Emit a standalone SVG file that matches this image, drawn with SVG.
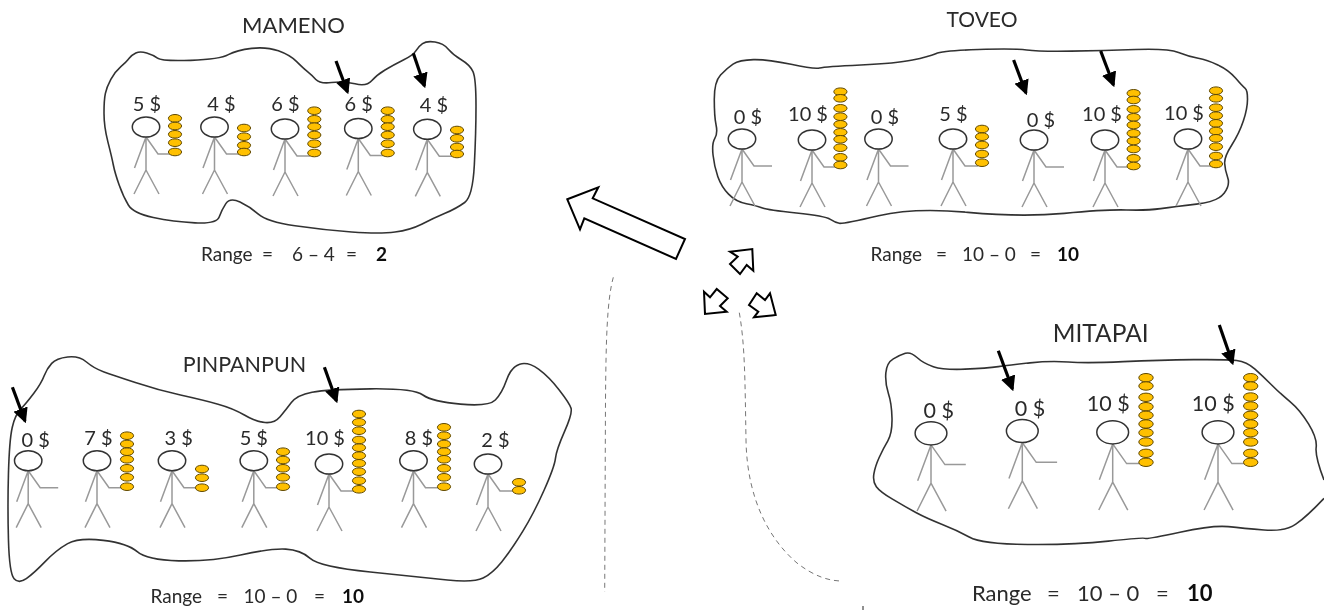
<svg xmlns="http://www.w3.org/2000/svg" width="1324" height="610" viewBox="0 0 1324 610">
<style>
text{font-family:"Lato","Open Sans","Liberation Sans",sans-serif;fill:#2a2a2a}
.t{font-size:21px;text-anchor:middle}
.l{font-size:20px;text-anchor:middle}
.lb{font-size:21.5px;text-anchor:middle}
.r{font-size:19px}
.bold{font-weight:700;fill:#111}
.blob{fill:none;stroke:#333;stroke-width:1.6;stroke-linejoin:round;vector-effect:non-scaling-stroke}
.limb{fill:none;stroke:#999;stroke-width:1.5;vector-effect:non-scaling-stroke}
.head{fill:#fff;stroke:#333;stroke-width:1.5;vector-effect:non-scaling-stroke}
.coins ellipse{fill:#ffc000;stroke:#5f4800;stroke-width:1;rx:6.6px;ry:3.8px}
.big ellipse{rx:7.2px;ry:4.2px}
.pt{stroke:#000;stroke-width:3.2;fill:none}
.block{fill:#fff;stroke:#000;stroke-width:2;stroke-linejoin:miter}
.dash{fill:none;stroke:#666;stroke-width:.9;stroke-dasharray:5 4}
</style>
<defs>
<filter id="soft" x="0" y="0" width="100%" height="100%"><feGaussianBlur stdDeviation=".35"/></filter>
<marker id="ah" markerUnits="userSpaceOnUse" markerWidth="15" markerHeight="15" refX="11" refY="6.500" orient="auto" viewBox="0 0 13 13"><path d="M0 0L13 6.500L0 13Z" fill="#000"/></marker>
<g id="fig"><path class="limb" d="M0 10V43M0 43L-12 67M0 43L13 67M0 10L-11.500 41M0 10L12 27H25"/><ellipse class="head" rx="13.700" ry="10"/></g>
<g id="fig0"><path class="limb" d="M0 10V43M0 43L-12 67M0 43L13 67M0 10L-11.500 41M0 10L12 27H30"/><ellipse class="head" rx="13.700" ry="10"/></g>
</defs>
<rect width="1324" height="610" fill="#fff"/>
<g filter="url(#soft)">
<g id="mameno">
<path class="blob" transform="translate(90 0) scale(.33333)" d="M42 340Q42 300 46 281Q50 262 62.500 238.500Q75 215 92.500 200Q110 185 117.500 175Q125 165 137.500 159Q150 153 170 159Q190 165 202.500 174.500Q215 184 302.500 181Q390 178 415 164Q440 150 485 145Q530 140 565 152.500Q600 165 620 185Q640 205 652.500 215Q665 225 677.500 238.500Q690 252 725 247.500Q760 243 795 251.500Q830 260 845 242.500Q860 225 885 210Q910 195 940 180Q970 165 977.500 152.500Q985 140 997.500 131Q1010 122 1035 126Q1060 130 1075 147.500Q1090 165 1115 180Q1140 195 1149 215Q1158 235 1158 317.500Q1158 400 1153 495Q1148 590 1124 607.500Q1100 625 1065 640Q1030 655 995 672.500Q960 690 915 696Q870 702 785 696Q700 690 615 677.500Q530 665 505 642.500Q480 620 450 606Q420 592 407.500 611Q395 630 387.500 651Q380 672 315 668.500Q250 665 190 652.500Q130 640 115 615Q100 590 87.500 555Q75 520 70 495Q65 470 53.500 425Q42 380 42 340Z"/>
<text class="t" style="font-size:22px" x="293.500" y="33">MAMENO</text>
<text class="r" y="261"><tspan x="201">Range</tspan><tspan x="262">=</tspan><tspan x="292">6 – 4</tspan><tspan x="346">=</tspan><tspan class="bold" x="376">2</tspan></text>
<g id="m1"><use href="#fig" x="146" y="127"/><text class="l" x="147" y="111">5 $</text><g class="coins"><ellipse cx="175" cy="118.300"/><ellipse cx="175" cy="126"/><ellipse cx="175" cy="134.300"/><ellipse cx="175" cy="142.700"/><ellipse cx="175" cy="152"/></g></g>
<g id="m2"><use href="#fig" x="214.500" y="127"/><text class="l" x="221.500" y="111">4 $</text><g class="coins"><ellipse cx="244" cy="128"/><ellipse cx="244" cy="136.700"/><ellipse cx="244" cy="145.300"/><ellipse cx="244" cy="152"/></g></g>
<g id="m3"><use href="#fig" x="285" y="129"/><text class="l" x="285.500" y="111">6 $</text><g class="coins"><ellipse cx="314.300" cy="110.700"/><ellipse cx="314.300" cy="119.300"/><ellipse cx="314.300" cy="126.700"/><ellipse cx="314.300" cy="135"/><ellipse cx="314.300" cy="143.700"/><ellipse cx="314.300" cy="153"/></g></g>
<g id="m4"><use href="#fig" x="358.300" y="128.500"/><text class="l" x="358.700" y="111">6 $</text><g class="coins"><ellipse cx="387.700" cy="110.700"/><ellipse cx="387.700" cy="119.300"/><ellipse cx="387.700" cy="126.700"/><ellipse cx="387.700" cy="135"/><ellipse cx="387.700" cy="143.700"/><ellipse cx="387.700" cy="153"/></g></g>
<g id="m5"><use href="#fig" x="427.300" y="129.300"/><text class="l" x="434" y="112">4 $</text><g class="coins"><ellipse cx="457" cy="130"/><ellipse cx="457" cy="138.300"/><ellipse cx="457" cy="147"/><ellipse cx="457" cy="154"/></g></g>
</g>

<g id="toveo">
<path class="blob" transform="translate(700 0) scale(.35714 .33333)" d="M40 297.500Q40 245 57.500 225Q75 205 92.500 192.500Q110 180 150 179Q190 178 255 193Q320 208 335 204Q350 200 450 195Q550 190 595 180Q640 170 660 161Q680 152 780 148.500Q880 145 915 150Q950 155 1040 153.500Q1130 152 1220 148.500Q1310 145 1340 157.500Q1370 170 1395 175Q1420 180 1450 195Q1480 210 1500 235Q1520 260 1526.500 265Q1533 270 1533 297.500Q1533 325 1521.500 362.500Q1510 400 1489 435Q1468 470 1469 490Q1470 510 1477.500 532.500Q1485 555 1467.500 580Q1450 605 1390 612.500Q1330 620 1290 626Q1250 632 1195 630Q1140 628 1020 640Q900 652 750 637Q600 622 500 647Q400 672 390 670Q380 668 365 658Q350 648 270 639Q190 630 175 624Q160 618 130 611.500Q100 605 80 582.500Q60 560 50 530Q40 500 36.500 465Q33 430 41.500 415Q50 400 45 375Q40 350 40 297.500Z"/>
<text class="t" x="982" y="27">TOVEO</text>
<text class="r" y="261"><tspan x="870.500">Range</tspan><tspan x="936">=</tspan><tspan x="962">10 – 0</tspan><tspan x="1030">=</tspan><tspan class="bold" x="1057">10</tspan></text>
<g id="t1"><use href="#fig0" x="742" y="139"/><text class="l" x="748" y="124">0 $</text></g>
<g id="t2"><use href="#fig" x="812" y="140"/><text class="l" x="808" y="121">10 $</text><g class="coins"><ellipse cx="840.400" cy="91.700"/><ellipse cx="840.400" cy="98.300"/><ellipse cx="840.400" cy="108.300"/><ellipse cx="840.400" cy="116.700"/><ellipse cx="840.400" cy="124.300"/><ellipse cx="840.400" cy="132.300"/><ellipse cx="840.400" cy="139.300"/><ellipse cx="840.400" cy="147.700"/><ellipse cx="840.400" cy="157.300"/><ellipse cx="840.400" cy="165"/></g></g>
<g id="t3"><use href="#fig0" x="878.500" y="139"/><text class="l" x="885" y="124">0 $</text></g>
<g id="t4"><use href="#fig" x="953" y="139"/><text class="l" x="953.500" y="121">5 $</text><g class="coins"><ellipse cx="982" cy="129"/><ellipse cx="982" cy="136.700"/><ellipse cx="982" cy="145"/><ellipse cx="982" cy="154"/><ellipse cx="982" cy="162.700"/></g></g>
<g id="t5"><use href="#fig0" x="1034" y="140"/><text class="l" x="1041" y="127">0 $</text></g>
<g id="t6"><use href="#fig" x="1105" y="140"/><text class="l" x="1102" y="121">10 $</text><g class="coins"><ellipse cx="1133.600" cy="93.300"/><ellipse cx="1133.600" cy="100"/><ellipse cx="1133.600" cy="109.300"/><ellipse cx="1133.600" cy="117.300"/><ellipse cx="1133.600" cy="125"/><ellipse cx="1133.600" cy="133.300"/><ellipse cx="1133.600" cy="141"/><ellipse cx="1133.600" cy="149"/><ellipse cx="1133.600" cy="158.300"/><ellipse cx="1133.600" cy="166"/></g></g>
<g id="t7"><use href="#fig" x="1188" y="139"/><text class="l" x="1184" y="120">10 $</text><g class="coins"><ellipse cx="1216" cy="90.700"/><ellipse cx="1216" cy="98.300"/><ellipse cx="1216" cy="107.700"/><ellipse cx="1216" cy="115.700"/><ellipse cx="1216" cy="123.300"/><ellipse cx="1216" cy="131"/><ellipse cx="1216" cy="138.300"/><ellipse cx="1216" cy="146.700"/><ellipse cx="1216" cy="156"/><ellipse cx="1216" cy="164"/></g></g>
</g>

<g id="pinpanpun">
<path class="blob" transform="translate(0 340) scale(.37594 .33333)" d="M22.500 600Q20 500 22.500 400Q25 300 32.500 262.500Q40 225 55 207.500Q70 190 90 160Q110 130 117.500 107.500Q125 85 137.500 70Q150 55 180 51Q210 47 230 66Q250 85 275 95Q300 105 360 127.500Q420 150 480 165Q540 180 580 192.500Q620 205 650 225Q680 245 705 247.500Q730 250 745 230Q760 210 775 187.500Q790 165 830 156.500Q870 148 985 146.500Q1100 145 1125 165Q1150 185 1225 192.500Q1300 200 1317.500 180Q1335 160 1347.500 120Q1360 80 1382.500 72.500Q1405 65 1432.500 87.500Q1460 110 1487.500 150Q1515 190 1519 205Q1523 220 1501.500 275Q1480 330 1477.500 355Q1475 380 1447.500 450Q1420 520 1390 575Q1360 630 1335 665Q1310 700 1285 714Q1260 728 1190 720Q1120 712 985 696Q850 680 825 655Q800 630 760 627.500Q720 625 640 645Q560 665 475 662.500Q390 660 365 635Q340 610 275 601Q210 592 180 611Q150 630 120 665Q90 700 70 716Q50 732 37.500 716Q25 700 22.500 600Z"/>
<text class="t" style="font-size:21.500px" x="244.500" y="372">PINPANPUN</text>
<text class="r" y="603"><tspan x="150.500">Range</tspan><tspan x="217">=</tspan><tspan x="243.500">10 – 0</tspan><tspan x="314">=</tspan><tspan class="bold" x="342">10</tspan></text>
<g id="p1"><use href="#fig0" x="28.200" y="460.700"/><text class="l" x="35.700" y="447">0 $</text></g>
<g id="p2"><use href="#fig" x="97" y="460.700"/><text class="l" x="98.500" y="445">7 $</text><g class="coins"><ellipse cx="127" cy="435.700"/><ellipse cx="127" cy="444"/><ellipse cx="127" cy="451.700"/><ellipse cx="127" cy="459.300"/><ellipse cx="127" cy="468.300"/><ellipse cx="127" cy="477.300"/><ellipse cx="127" cy="486.700"/></g></g>
<g id="p3"><use href="#fig" x="172" y="460.700"/><text class="l" x="178.600" y="445">3 $</text><g class="coins"><ellipse cx="202" cy="469"/><ellipse cx="202" cy="477.700"/><ellipse cx="202" cy="487.700"/></g></g>
<g id="p4"><use href="#fig" x="253.800" y="460.700"/><text class="l" x="253.800" y="445">5 $</text><g class="coins"><ellipse cx="283" cy="451.700"/><ellipse cx="283" cy="460"/><ellipse cx="283" cy="468.300"/><ellipse cx="283" cy="477.300"/><ellipse cx="283" cy="486.700"/></g></g>
<g id="p5"><use href="#fig" x="329" y="464"/><text class="l" x="325" y="445">10 $</text><g class="coins"><ellipse cx="359" cy="414"/><ellipse cx="359" cy="422.300"/><ellipse cx="359" cy="430.700"/><ellipse cx="359" cy="440"/><ellipse cx="359" cy="447.700"/><ellipse cx="359" cy="455.700"/><ellipse cx="359" cy="463.300"/><ellipse cx="359" cy="471.700"/><ellipse cx="359" cy="480.700"/><ellipse cx="359" cy="489.300"/></g></g>
<g id="p6"><use href="#fig" x="413.500" y="460.700"/><text class="l" x="419" y="445">8 $</text><g class="coins"><ellipse cx="444" cy="427.300"/><ellipse cx="444" cy="435.700"/><ellipse cx="444" cy="444"/><ellipse cx="444" cy="451.700"/><ellipse cx="444" cy="459.300"/><ellipse cx="444" cy="468.300"/><ellipse cx="444" cy="477.300"/><ellipse cx="444" cy="486.700"/></g></g>
<g id="p7"><use href="#fig" x="488" y="464"/><text class="l" x="495.500" y="447">2 $</text><g class="coins"><ellipse cx="519" cy="482.300"/><ellipse cx="519" cy="490.300"/></g></g>
</g>

<g id="mitapai">
<path class="blob" transform="translate(860 310) scale(.33333)" d="M1392 565Q1340 620 1307.500 642.500Q1275 665 1212.500 660Q1150 655 1105 650Q1060 645 960 666.500Q860 688 855 685Q850 682 745 693.500Q640 705 502.500 703.500Q365 702 327.500 681Q290 660 245 642.500Q200 625 167.500 607.500Q135 590 97.500 567.500Q60 545 49 530Q38 515 41.500 492.500Q45 470 57.500 442.500Q70 415 83.500 392.500Q97 370 96 325Q95 280 85 250Q75 220 77.500 189Q80 158 100 146.500Q120 135 136 130Q152 125 171 142.500Q190 160 220 170Q250 180 315 177.500Q380 175 415 170Q450 165 510 158.500Q570 152 625 156Q680 160 790 155Q900 150 1000 149Q1100 148 1130 151.500Q1160 155 1185 177.500Q1210 200 1235 225Q1260 250 1290 275Q1320 300 1346 342.500Q1372 385 1368.500 412.500Q1365 440 1392 510"/>
<text class="t" style="font-size:24.500px" x="1100.700" y="342">MITAPAI</text>
<text class="r" style="font-size:22px" y="601"><tspan x="972">Range</tspan><tspan x="1047">=</tspan><tspan x="1077">10 – 0</tspan><tspan x="1156">=</tspan><tspan class="bold" x="1187">10</tspan></text>
<g id="a1"><use href="#fig0" transform="translate(931 433.300) scale(1.16)"/><text class="lb" x="938.700" y="418">0 $</text></g>
<g id="a2"><use href="#fig0" transform="translate(1022.300 431) scale(1.16)"/><text class="lb" x="1030" y="416">0 $</text></g>
<g id="a3"><use href="#fig" transform="translate(1112.700 432.300) scale(1.16)"/><text class="lb" x="1108.300" y="411">10 $</text><g class="coins big"><ellipse cx="1146" cy="377.700"/><ellipse cx="1146" cy="386"/><ellipse cx="1146" cy="397.300"/><ellipse cx="1146" cy="406.700"/><ellipse cx="1146" cy="415.300"/><ellipse cx="1146" cy="424"/><ellipse cx="1146" cy="432.700"/><ellipse cx="1146" cy="442"/><ellipse cx="1146" cy="453.300"/><ellipse cx="1146" cy="462.300"/></g></g>
<g id="a4"><use href="#fig" transform="translate(1218 432.300) scale(1.16)"/><text class="lb" x="1213.300" y="411">10 $</text><g class="coins big"><ellipse cx="1250.700" cy="377.700"/><ellipse cx="1250.700" cy="386"/><ellipse cx="1250.700" cy="397"/><ellipse cx="1250.700" cy="406"/><ellipse cx="1250.700" cy="415.300"/><ellipse cx="1250.700" cy="424"/><ellipse cx="1250.700" cy="432.700"/><ellipse cx="1250.700" cy="442"/><ellipse cx="1250.700" cy="453.300"/><ellipse cx="1250.700" cy="462.300"/></g></g>
</g>

<g id="connectors">
<line class="pt" marker-end="url(#ah)" x1="336" y1="61" x2="347.500" y2="92"/>
<line class="pt" marker-end="url(#ah)" x1="413.300" y1="53.300" x2="424.500" y2="86"/>
<line class="pt" marker-end="url(#ah)" x1="1013.600" y1="60" x2="1026" y2="93"/>
<line class="pt" marker-end="url(#ah)" x1="1100.700" y1="51" x2="1113.500" y2="85"/>
<line class="pt" marker-end="url(#ah)" x1="12.400" y1="387.300" x2="25" y2="421"/>
<line class="pt" marker-end="url(#ah)" x1="324.400" y1="367.300" x2="336.500" y2="401"/>
<line class="pt" marker-end="url(#ah)" x1="998.300" y1="350.700" x2="1012.500" y2="389"/>
<line class="pt" marker-end="url(#ah)" x1="1219.300" y1="325" x2="1232.500" y2="363"/>
<polygon class="block" points="567.300,199.300 598.300,187.300 592.700,198.300 685,239 676,259 584.300,218.300 580,229.300"/>
<polygon class="block" points="730,251.700 752.300,249 753.300,270.700 746.700,265 740,274 730,264 737.700,256.700"/>
<polygon class="block" points="704,291.700 710,297.300 716.700,289 727.700,298.300 720,306 726.700,311.700 705,314"/>
<polygon class="block" points="749,305 756.700,293.300 765,300 770,293.300 775.700,315 754,317.300 758.300,311.700"/>
<path class="dash" d="M613.300 277.300C607 300 606 340 605.500 400L604.700 592"/>
<path class="dash" d="M739.300 312.700C745 345 745 380 746 440C747 500 770 540 797 563C815 577 830 581 842 581"/>
<path d="M863 606V610" stroke="#222" stroke-width="1" fill="none"/>
</g>
</g>
</svg>
